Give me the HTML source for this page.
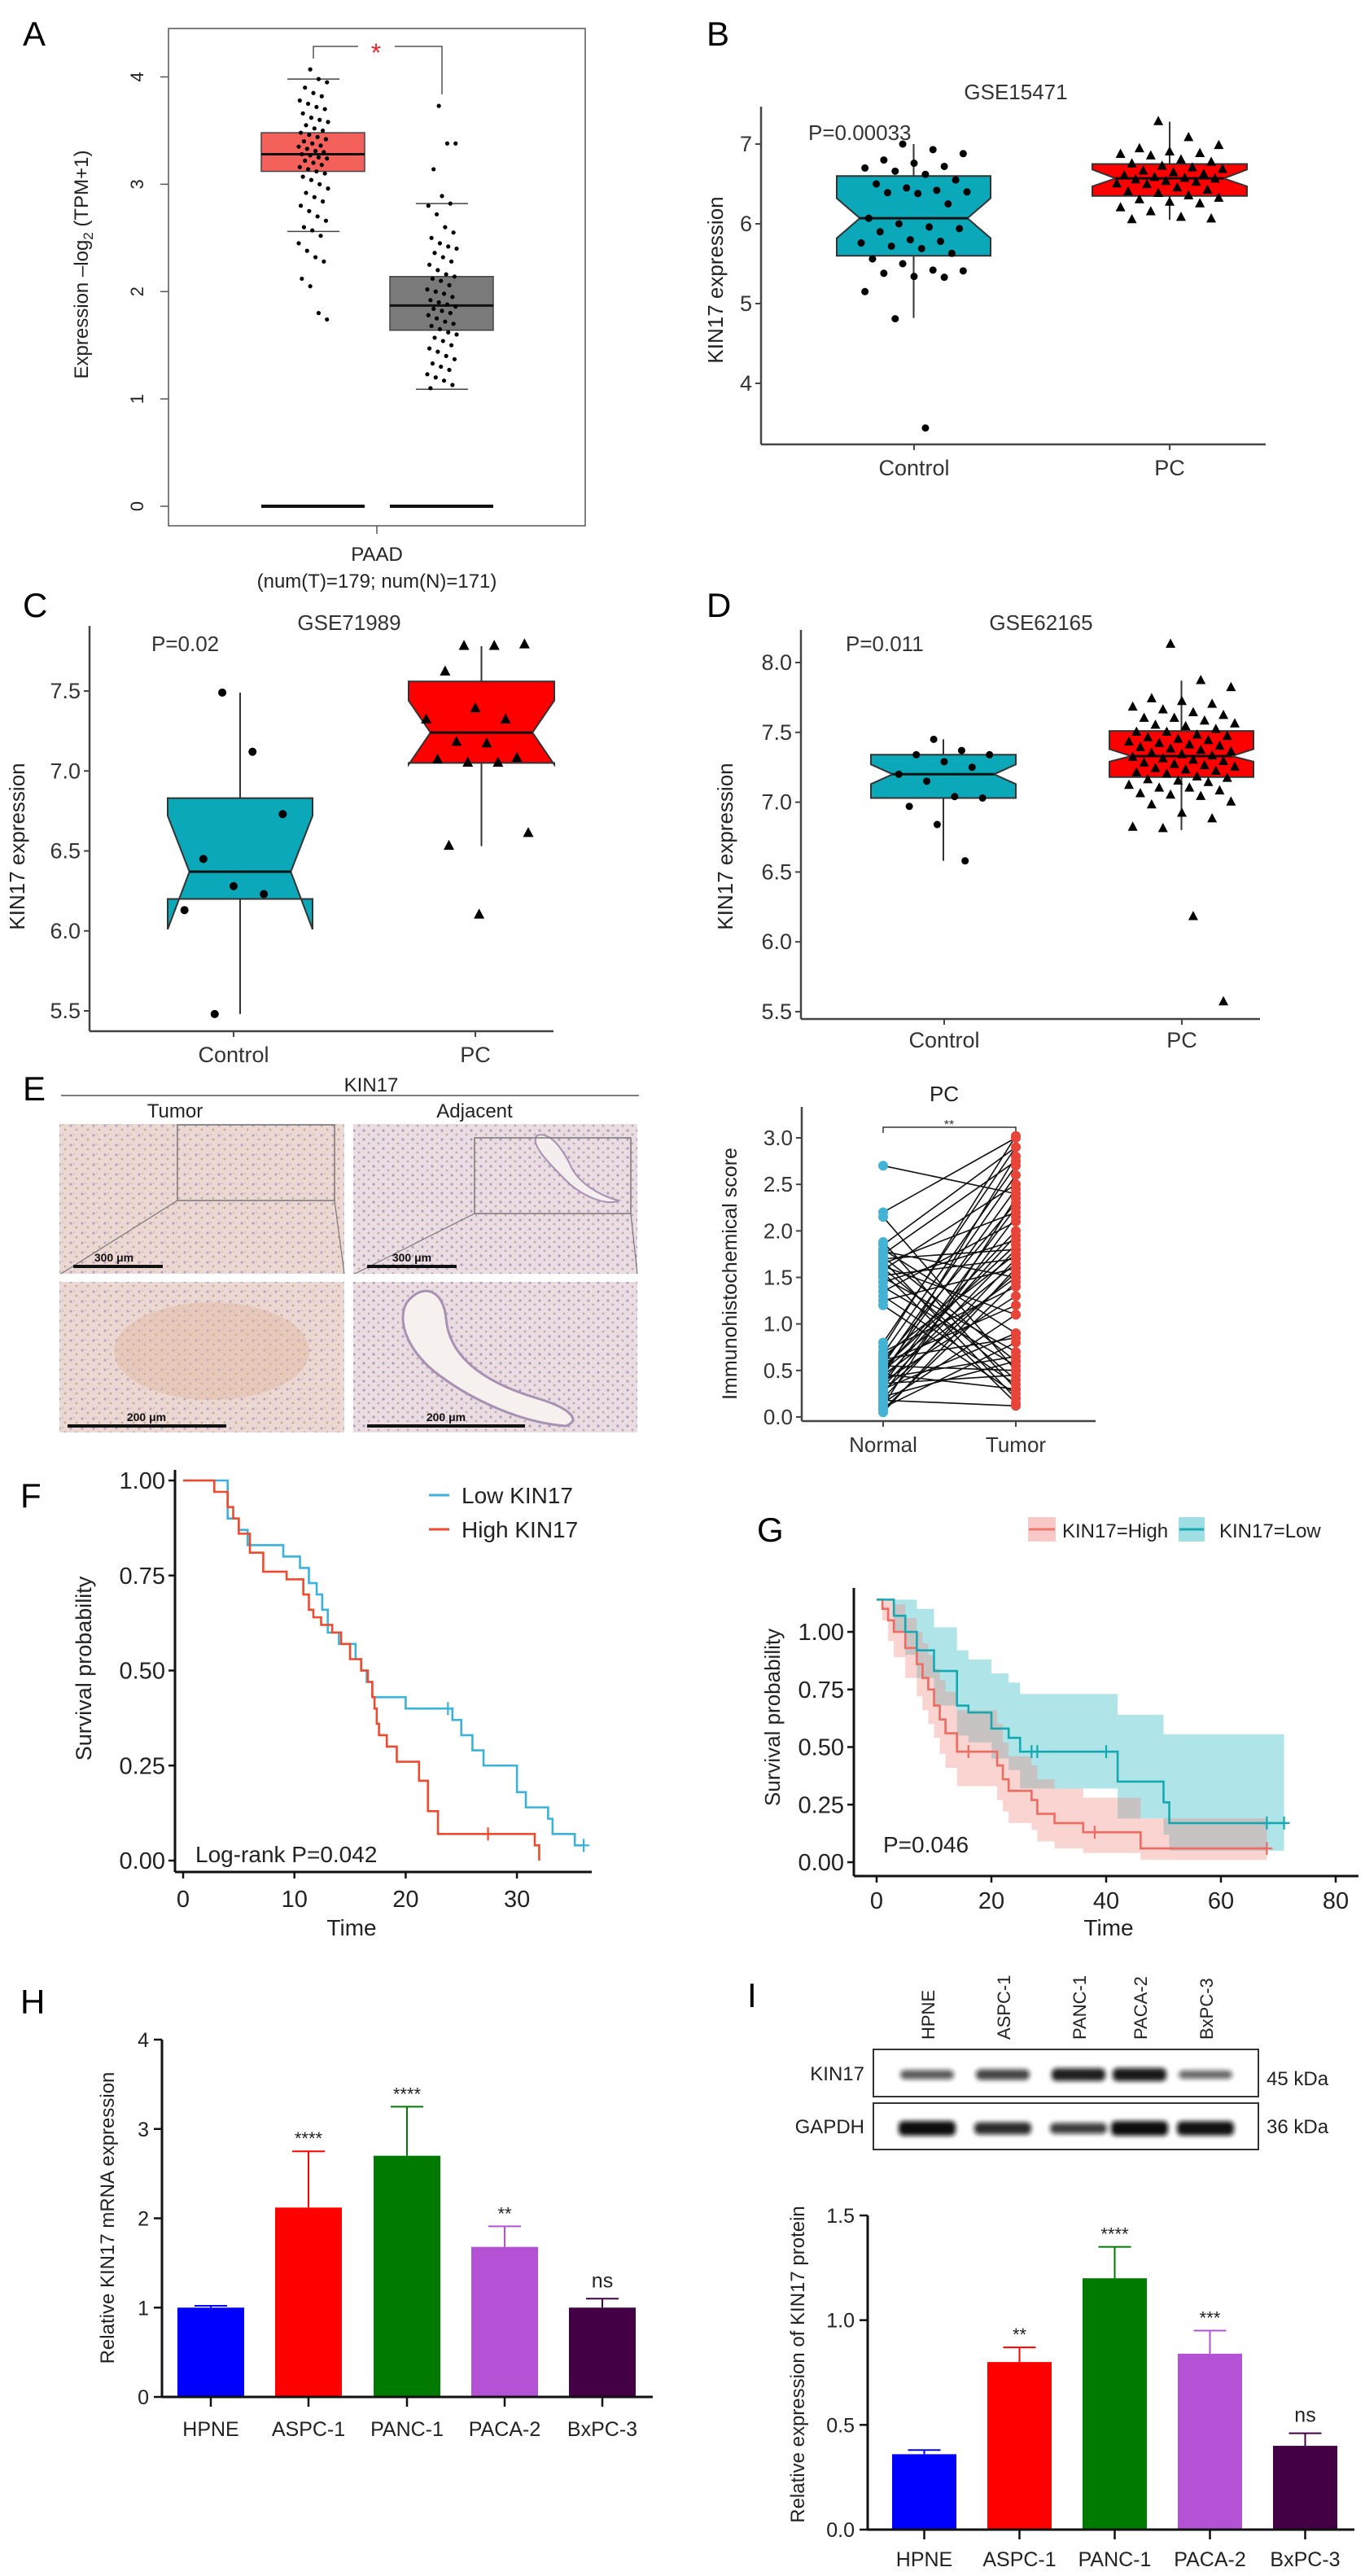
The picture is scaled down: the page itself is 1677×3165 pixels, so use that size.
<!DOCTYPE html>
<html><head><meta charset="utf-8">
<style>
html,body{margin:0;padding:0;background:#fff;}
svg{display:block;font-family:"Liberation Sans",Arial,sans-serif;}
.narrow{font-family:"Liberation Sans Narrow","Liberation Sans",sans-serif;}
</style></head>
<body>
<svg id="fig" width="1677" height="3165" viewBox="0 0 1677 3165" xmlns="http://www.w3.org/2000/svg">
<defs>
<filter id="blur2" x="-20%" y="-50%" width="140%" height="200%"><feGaussianBlur stdDeviation="3"/></filter>
<pattern id="tissueT" width="14" height="12" patternUnits="userSpaceOnUse">
<rect width="14" height="12" fill="#ecd8d2"/><circle cx="3" cy="3" r="1.6" fill="#b9a3c4"/><circle cx="10" cy="8" r="1.4" fill="#c9a79a"/><circle cx="7" cy="2" r="1" fill="#dcb8a8"/>
</pattern>
<pattern id="tissueA" width="12" height="11" patternUnits="userSpaceOnUse">
<rect width="12" height="11" fill="#eadde2"/><circle cx="3" cy="3" r="1.6" fill="#b29bbf"/><circle cx="9" cy="8" r="1.4" fill="#c7a6ae"/>
</pattern>
</defs>

<text x="28" y="56" font-size="42">A</text>
<text x="868" y="56" font-size="42">B</text>
<text x="28" y="758" font-size="42">C</text>
<text x="868" y="758" font-size="42">D</text>
<text x="28" y="1352" font-size="42">E</text>
<text x="25" y="1852" font-size="42">F</text>
<text x="930" y="1894" font-size="42">G</text>
<text x="25" y="2474" font-size="42">H</text>
<text x="918" y="2466" font-size="42">I</text>

<g id="pA">
<rect x="207" y="35" width="512" height="611" fill="none" stroke="#555" stroke-width="1.5"/>
<text transform="translate(108,325) rotate(-90)" text-anchor="middle" font-size="24" fill="#222">Expression –log<tspan font-size="17" dy="6">2</tspan><tspan dy="-6"> (TPM+1)</tspan></text>
<line x1="463" y1="646" x2="463" y2="656" stroke="#555" stroke-width="1.5"/>
<text x="463" y="689" text-anchor="middle" font-size="24" fill="#222">PAAD</text>
<text x="463" y="722" text-anchor="middle" font-size="24" fill="#222">(num(T)=179; num(N)=171)</text>
<path d="M385,72 V57 H440 M485,57 H543 V116" fill="none" stroke="#555" stroke-width="1.5"/>
<text x="462" y="76" text-anchor="middle" font-size="32" fill="#e8262b">*</text>
</g>

<g id="pB">
<text x="1248" y="122" text-anchor="middle" font-size="26" fill="#333">GSE15471</text>
<text x="993" y="172" font-size="26" fill="#333">P=0.00033</text>
<text transform="translate(888,344) rotate(-90)" text-anchor="middle" font-size="26" fill="#222">KIN17 expression</text>
</g>
<g id="pC">
<text x="429" y="774" text-anchor="middle" font-size="26" fill="#333">GSE71989</text>
<text x="186" y="800" font-size="26" fill="#333">P=0.02</text>
<text transform="translate(30,1040) rotate(-90)" text-anchor="middle" font-size="26" fill="#222">KIN17 expression</text>
</g>
<g id="pD">
<text x="1279" y="774" text-anchor="middle" font-size="26" fill="#333">GSE62165</text>
<text x="1039" y="800" font-size="26" fill="#333">P=0.011</text>
<text transform="translate(900,1040) rotate(-90)" text-anchor="middle" font-size="26" fill="#222">KIN17 expression</text>
</g>

<g id="pEimg">
<text x="456" y="1341" text-anchor="middle" font-size="24" fill="#222">KIN17</text>
<line x1="75" y1="1346" x2="785" y2="1346" stroke="#555" stroke-width="1.5"/>
<text x="215" y="1373" text-anchor="middle" font-size="24" fill="#222">Tumor</text>
<text x="583" y="1373" text-anchor="middle" font-size="24" fill="#222">Adjacent</text>
<rect x="73" y="1381" width="350" height="184" fill="url(#tissueT)"/>
<rect x="434" y="1381" width="349" height="184" fill="url(#tissueA)"/>
<rect x="73" y="1575" width="350" height="185" fill="url(#tissueT)"/>
<rect x="434" y="1575" width="349" height="185" fill="url(#tissueA)"/>
<ellipse cx="260" cy="1660" rx="120" ry="60" fill="#e2b9a0" opacity="0.45"/>
<path d="M500,1600 C520,1575 545,1585 548,1620 C552,1670 600,1700 660,1718 C700,1730 715,1745 695,1752 C640,1748 580,1720 540,1690 C505,1665 485,1625 500,1600 Z" fill="#f6f0ee" stroke="#a891b3" stroke-width="3"/>
<path d="M660,1395 C675,1390 690,1410 700,1430 C710,1455 740,1470 760,1475 C745,1482 715,1470 695,1450 C675,1430 650,1405 660,1395 Z" fill="#f4eeee" stroke="#a891b3" stroke-width="2"/>
<rect x="218" y="1382" width="193" height="93" fill="none" stroke="#777" stroke-width="1.5"/>
<rect x="583" y="1398" width="192" height="93" fill="none" stroke="#777" stroke-width="1.5"/>
<path d="M218,1475 L75,1565 M411,1475 L423,1565" stroke="#777" stroke-width="1.2"/>
<path d="M583,1491 L436,1565 M775,1491 L783,1565" stroke="#777" stroke-width="1.2"/>
<line x1="90" y1="1556" x2="200" y2="1556" stroke="#111" stroke-width="4"/>
<text x="140" y="1550" text-anchor="middle" font-size="14" font-weight="bold" fill="#111">300 μm</text>
<line x1="451" y1="1556" x2="561" y2="1556" stroke="#111" stroke-width="4"/>
<text x="506" y="1550" text-anchor="middle" font-size="14" font-weight="bold" fill="#111">300 μm</text>
<line x1="83" y1="1752" x2="278" y2="1752" stroke="#111" stroke-width="4"/>
<text x="180" y="1746" text-anchor="middle" font-size="14" font-weight="bold" fill="#111">200 μm</text>
<line x1="451" y1="1752" x2="645" y2="1752" stroke="#111" stroke-width="4"/>
<text x="548" y="1746" text-anchor="middle" font-size="14" font-weight="bold" fill="#111">200 μm</text>
</g>

<g id="pE">
<text x="1160" y="1353" text-anchor="middle" font-size="26" fill="#222">PC</text>
<path d="M1085,1392 V1385 H1248 V1392" fill="none" stroke="#333" stroke-width="1.5"/>
<text x="1166" y="1387" text-anchor="middle" font-size="16" fill="#333">**</text>
<text transform="translate(905,1565) rotate(-90)" text-anchor="middle" font-size="25" fill="#222">Immunohistochemical score</text>
</g>

<g id="pF" class="narrow">
<text transform="translate(112,2050) rotate(-90)" text-anchor="middle" font-size="27" fill="#222" font-family="Liberation Sans, sans-serif">Survival probability</text>
<text x="432" y="2378" text-anchor="middle" font-size="28" fill="#222">Time</text>
<text x="240" y="2288" font-size="28" fill="#222">Log-rank P=0.042</text>
<line x1="527" y1="1837" x2="552" y2="1837" stroke="#3ab2dc" stroke-width="3"/>
<text x="567" y="1847" font-size="28" fill="#222" font-family="Liberation Sans, sans-serif">Low KIN17</text>
<line x1="527" y1="1879" x2="552" y2="1879" stroke="#ef4a2e" stroke-width="3"/>
<text x="567" y="1889" font-size="28" fill="#222" font-family="Liberation Sans, sans-serif">High KIN17</text>
</g>

<g id="pG" class="narrow">
<rect x="1263" y="1864" width="34" height="30" fill="#f8c8c6"/>
<line x1="1264" y1="1879" x2="1296" y2="1879" stroke="#f0766c" stroke-width="3"/>
<text x="1305" y="1889" font-size="24" fill="#222">KIN17=High</text>
<rect x="1448" y="1864" width="32" height="30" fill="#9fdfe3"/>
<line x1="1449" y1="1879" x2="1479" y2="1879" stroke="#1aaab4" stroke-width="3"/>
<text x="1498" y="1889" font-size="24" fill="#222">KIN17=Low</text>
<text transform="translate(958,2110) rotate(-90)" text-anchor="middle" font-size="26" fill="#222" font-family="Liberation Sans, sans-serif">Survival probability</text>
<text x="1362" y="2378" text-anchor="middle" font-size="28" fill="#222">Time</text>
<text x="1085" y="2276" font-size="28" fill="#222">P=0.046</text>
</g>

<g id="pH">
<text transform="translate(140,2725) rotate(-90)" text-anchor="middle" font-size="24" fill="#222">Relative KIN17 mRNA expression</text>
</g>

<g id="pI">
<rect x="1073" y="2518" width="473" height="58" fill="#fff" stroke="#333" stroke-width="2"/>
<rect x="1073" y="2584" width="473" height="57" fill="#fff" stroke="#333" stroke-width="2"/>
<text x="1062" y="2556" text-anchor="end" font-size="24" fill="#222">KIN17</text>
<text x="1062" y="2621" text-anchor="end" font-size="24" fill="#222">GAPDH</text>
<text x="1556" y="2562" font-size="24" fill="#222">45 kDa</text>
<text x="1556" y="2621" font-size="24" fill="#222">36 kDa</text>
<text transform="translate(988,2905) rotate(-90)" text-anchor="middle" font-size="24" fill="#222">Relative expression of KIN17 protein</text>
</g>
</svg>

<script>
// ---------- DATA ----------
const aTumor = [4.07,3.98,3.95,3.9,3.85,3.82,3.78,3.75,3.72,3.7,3.66,3.62,3.6,3.58,3.55,3.52,3.5,3.48,3.46,3.44,3.42,3.4,3.38,3.36,3.35,3.33,3.31,3.3,3.28,3.27,3.25,3.24,3.22,3.2,3.18,3.16,3.14,3.12,3.1,3.07,3.04,3.0,2.96,2.92,2.88,2.84,2.8,2.75,2.7,2.66,2.6,2.57,2.52,2.45,2.38,2.32,2.28,2.12,2.05,1.8,1.74];
const aNormal = [3.73,3.38,3.38,3.14,2.89,2.82,2.8,2.72,2.6,2.55,2.5,2.45,2.42,2.4,2.36,2.32,2.28,2.25,2.2,2.16,2.14,2.12,2.1,2.06,2.02,2.0,1.98,1.95,1.92,1.9,1.88,1.86,1.84,1.82,1.8,1.78,1.75,1.72,1.7,1.68,1.65,1.62,1.6,1.57,1.54,1.5,1.47,1.44,1.4,1.37,1.33,1.3,1.27,1.23,1.2,1.17,1.13,1.1];
const aStats = [[2.56,3.12,3.28,3.48,3.98],[1.09,1.64,1.87,2.14,2.82]];
const aTicks = [0,1,2,3,4];

const bControl = [7.0,6.93,6.88,6.8,6.76,6.72,6.7,6.66,6.62,6.55,6.5,6.45,6.42,6.4,6.39,6.38,6.25,6.07,6.0,5.96,5.94,5.9,5.8,5.78,5.76,5.72,5.69,5.63,5.56,5.5,5.42,5.41,5.38,5.34,5.33,5.15,4.81,3.44];
const bPC = [7.28,7.08,6.98,6.94,6.9,6.88,6.87,6.85,6.8,6.77,6.75,6.72,6.7,6.68,6.66,6.64,6.62,6.6,6.58,6.57,6.56,6.55,6.53,6.52,6.5,6.49,6.45,6.42,6.4,6.38,6.35,6.32,6.3,6.27,6.25,6.2,6.15,6.08,6.06,6.05];
const bStats = [[4.82,5.6,6.07,6.6,7.0,5.82,6.32],[6.05,6.35,6.57,6.75,7.28,6.47,6.68]];
const bTicks = [4,5,6,7];

const cControl = [7.49,7.12,6.73,6.45,6.28,6.23,6.13,5.48];
const cPC = [7.78,7.78,7.79,7.62,7.39,7.32,7.32,7.18,7.17,7.08,7.07,7.05,7.05,6.61,6.53,6.1];
const cStats = [[5.48,6.2,6.37,6.83,7.49,6.01,6.72],[6.53,7.05,7.24,7.56,7.78,7.04,7.44]];
const cTicks = [5.5,6.0,6.5,7.0,7.5];

const dControl = [7.45,7.37,7.34,7.34,7.29,7.25,7.2,7.15,7.04,7.03,6.97,6.84,6.58];
const dPC = [8.13,7.87,7.82,7.74,7.72,7.7,7.68,7.66,7.64,7.62,7.6,7.6,7.58,7.56,7.55,7.54,7.52,7.5,7.5,7.48,7.47,7.46,7.45,7.44,7.43,7.42,7.41,7.4,7.39,7.38,7.37,7.36,7.35,7.34,7.33,7.32,7.31,7.3,7.29,7.28,7.27,7.26,7.25,7.24,7.23,7.22,7.21,7.2,7.18,7.17,7.16,7.15,7.14,7.12,7.1,7.1,7.08,7.06,7.05,7.04,7.0,6.98,6.92,6.88,6.82,6.81,6.18,5.57];
const dStats = [[6.58,7.03,7.2,7.34,7.45,7.13,7.27],[6.8,7.18,7.33,7.51,7.87,7.29,7.38]];
const dTicks = [5.5,6.0,6.5,7.0,7.5,8.0];

const eNormal = [2.7,2.2,2.15,1.88,1.85,1.8,1.78,1.75,1.72,1.7,1.68,1.65,1.62,1.6,1.58,1.55,1.52,1.5,1.45,1.4,1.35,1.3,1.25,1.2,0.8,0.75,0.7,0.68,0.65,0.62,0.6,0.58,0.56,0.55,0.53,0.52,0.5,0.48,0.46,0.45,0.43,0.42,0.4,0.38,0.36,0.35,0.33,0.3,0.28,0.25,0.22,0.2,0.18,0.15,0.12,0.1,0.08,0.05];
const eTumor = [2.4,3.0,0.5,0.3,2.9,0.9,1.5,2.75,0.6,1.8,0.2,2.2,1.1,0.4,2.5,0.15,1.7,0.7,1.9,0.55,2.1,0.35,1.6,0.25,2.9,3.02,1.4,2.7,1.75,0.85,2.3,1.2,2.6,0.5,1.85,2.0,1.65,2.45,0.3,1.5,2.8,0.65,1.95,1.3,0.45,2.25,1.8,0.9,1.55,2.15,0.6,1.7,0.12,1.1,2.35,0.8,1.45,1.6];
const eTicks = [0,0.5,1,1.5,2,2.5,3];

const fLowT = [0,4,5,5.8,9,10.5,11.3,12,12.5,13,14,15.5,16,16.5,17,20,24.2,25,26,27,30,30.8,32.8,33.2,35.2];
const fLowS = [1.0,0.90,0.87,0.83,0.80,0.77,0.73,0.70,0.66,0.60,0.57,0.53,0.50,0.47,0.43,0.40,0.37,0.33,0.29,0.25,0.18,0.14,0.11,0.07,0.04];
const fLowEnd = 36;
const fLowCensor = [[23.8,0.40],[36,0.04]];
const fHighT = [0,2.8,4,4.5,5,6,7.2,9.3,10.8,11.3,11.7,12.4,13.4,14.2,15,16,16.6,17,17.2,17.4,17.6,18.3,19.2,21.2,22,22.9,31.6];
const fHighS = [1.0,0.97,0.93,0.90,0.86,0.81,0.76,0.74,0.70,0.66,0.64,0.62,0.60,0.57,0.53,0.50,0.47,0.43,0.40,0.36,0.33,0.30,0.26,0.21,0.13,0.07,0.04];
const fHighEnd = 32;
const fHighDrop = 0.0;
const fHighCensor = [[27.4,0.07]];
const fYTicks = [0,0.25,0.5,0.75,1.0];
const fXTicks = [0,10,20,30];

const gHighT = [0,1,2,3,5,7,8,9,10,11,12,14,21,22,23,27,28,31,36,46];
const gHighS = [1.14,1.10,1.05,1.00,0.93,0.86,0.80,0.75,0.68,0.62,0.56,0.48,0.42,0.36,0.31,0.27,0.21,0.17,0.13,0.06];
const gHighU = [1.14,1.14,1.14,1.12,1.06,1.00,0.95,0.90,0.84,0.79,0.74,0.66,0.60,0.52,0.46,0.42,0.36,0.32,0.28,0.19];
const gHighL = [1.14,1.05,0.96,0.89,0.80,0.72,0.66,0.60,0.54,0.47,0.41,0.33,0.27,0.22,0.17,0.14,0.09,0.06,0.04,0.01];
const gHighEnd = 68;
const gHighCensor = [[16,0.48],[38,0.13],[68,0.06]];
const gLowT = [0,3,5,7,10,14,16,20,23,25,42,50,51];
const gLowS = [1.14,1.07,1.00,0.92,0.83,0.68,0.65,0.58,0.54,0.48,0.35,0.26,0.17];
const gLowU = [1.14,1.14,1.14,1.10,1.02,0.92,0.88,0.82,0.78,0.73,0.64,0.555,0.555];
const gLowL = [1.14,1.00,0.90,0.80,0.68,0.55,0.52,0.45,0.40,0.32,0.19,0.12,0.05];
const gLowEnd = 71;
const gLowCensor = [[27,0.48],[28,0.48],[40,0.48],[68,0.17],[71,0.17]];
const gYTicks = [0,0.25,0.5,0.75,1.0];
const gXTicks = [0,20,40,60,80];

const cellLines = ["HPNE","ASPC-1","PANC-1","PACA-2","BxPC-3"];
const barColors = ["#0000ff","#ff0000","#007a00","#b452d6","#440044"];
const hValues = [1.0,2.12,2.70,1.68,1.0];
const hErrors = [1.02,2.75,3.25,1.91,1.10];
const hSig = ["","****","****","**","ns"];
const hTicks = [0,1,2,3,4];
const iValues = [0.36,0.80,1.20,0.84,0.40];
const iErrors = [0.38,0.87,1.35,0.95,0.46];
const iSig = ["","**","****","***","ns"];
const iTicks = [0.0,0.5,1.0,1.5];
const blotKin = [0.55,0.7,0.95,1.0,0.45];
const blotGapdh = [1.0,0.75,0.6,1.0,0.95];

// ---------- HELPERS ----------
const NS = "http://www.w3.org/2000/svg";
const svg = document.getElementById('fig');
function mk(tag, attrs, parent){
  const e = document.createElementNS(NS, tag);
  for (const k in attrs) e.setAttribute(k, attrs[k]);
  (parent || svg).appendChild(e);
  return e;
}
function txt(parent, x, y, s, size, anchor, extra){
  const t = mk('text', Object.assign({x:x, y:y, 'font-size':size, 'text-anchor':anchor||'middle', fill:'#222'}, extra||{}), parent);
  t.textContent = s;
  return t;
}
function jit(i, w){ return (((i*37+11)%29)/28 - 0.5) * w; }
function lin(d0,d1,r0,r1){ return v => r0 + (v-d0)/(d1-d0)*(r1-r0); }

function ggAxes(g, x0, yTop, yBot, xRight, ticks, yS, fmt, fs, cats, catX, catY){
  const ax = mk('line',{x1:x0,y1:yTop,x2:x0,y2:yBot,stroke:'#444','stroke-width':2.5},g);
  
  
  const bx = mk('line',{x1:x0,y1:yBot,x2:xRight,y2:yBot,stroke:'#444','stroke-width':2.5},g);
  
  
  ticks.forEach(v=>{
    const y = yS(v);
    const tk = mk('line',{x1:x0-7,y1:y,x2:x0,y2:y,stroke:'#444','stroke-width':2},g);
    
    
    const tl = txt(g, x0-11, y+9, fmt(v), fs, 'end', {fill:'#333'});
    
    
  });
  cats.forEach((c,i)=>{
    const tk = mk('line',{x1:catX[i],y1:yBot,x2:catX[i],y2:yBot+7,stroke:'#444','stroke-width':2},g);
    
    
    const tl = txt(g, catX[i], catY, c, fs, 'middle', {fill:'#333'});
    
    
  });
}
function notchBox(g, x0, x1, st, yS, fill){
  const xm = (x0+x1)/2, ins = (x1-x0)*0.15;
  const wh = mk('line',{x1:xm,y1:yS(st[0]),x2:xm,y2:yS(st[4]),stroke:'#333','stroke-width':2},g);
  
  
  const [lo,q1,md,q3,hi,nl,nh] = st;
  const d = `M${x0},${yS(q3)} L${x1},${yS(q3)} L${x1},${yS(nh)} L${x1-ins},${yS(md)} L${x1},${yS(nl)} L${x1},${yS(q1)} L${x0},${yS(q1)} L${x0},${yS(nl)} L${x0+ins},${yS(md)} L${x0},${yS(nh)} Z`;
  const b = mk('path',{d:d,fill:fill,stroke:'#333','stroke-width':2,'stroke-linejoin':'miter'},g);
  
  
  const m = mk('line',{x1:x0+ins,y1:yS(md),x2:x1-ins,y2:yS(md),stroke:'#111','stroke-width':3},g);
  
  
}
function dots(g, vals, xc, w, yS, shape, r){
  vals.forEach((v,i)=>{
    const x = xc + jit(i,w), y = yS(v);
    let p;
    if (shape==='tri'){
      p = mk('path',{d:`M${x},${y-r*1.2} L${x+r},${y+r*0.7} L${x-r},${y+r*0.7} Z`,fill:'#000'},g);
    } else {
      p = mk('circle',{cx:x,cy:y,r:r,fill:'#000'},g);
    }
    
    
  });
}

// ---------- PANEL A ----------
(function(){
  const g = document.getElementById('pA');
  const yS = lin(0,4,622,94.5);
  aTicks.forEach(v=>{
    const tk = mk('line',{x1:197,y1:yS(v),x2:207,y2:yS(v),stroke:'#555','stroke-width':1.5},g);
    
    
    const tl = mk('text',{transform:`translate(176,${yS(v)}) rotate(-90)`,'text-anchor':'middle','font-size':22,fill:'#222'},g);
    tl.textContent = String(v);
    
    
  });
  const centers = [385,543], fills=['#f4605a','#7a7a7a'];
  [[321,448],[479,606]].forEach((xx,k)=>{
    const z = mk('line',{x1:xx[0],y1:yS(0),x2:xx[1],y2:yS(0),stroke:'#111','stroke-width':4},g);
    
    
    const st = aStats[k], xc = centers[k];
    const b = mk('rect',{x:xx[0],y:yS(st[3]),width:xx[1]-xx[0],height:yS(st[1])-yS(st[3]),fill:fills[k],stroke:'#444','stroke-width':1.5},g);
    
    
    const m = mk('line',{x1:xx[0],y1:yS(st[2]),x2:xx[1],y2:yS(st[2]),stroke:'#111','stroke-width':3},g);
    
    
    [st[0],st[4]].forEach(v=>{
      const c = mk('line',{x1:xc-32,y1:yS(v),x2:xc+32,y2:yS(v),stroke:'#444','stroke-width':1.5},g);
      
      
    });
  });
  [aTumor,aNormal].forEach((arr,k)=>{
    arr.forEach((v,i)=>{
      const c = mk('circle',{cx:centers[k]+jit(i,36),cy:yS(v),r:2.6,fill:'#000'},g);
      
      
    });
  });
})();

(function(){
  const g = document.getElementById('pB');
  const yS = lin(4,7,471,177);
  ggAxes(g, 935, 131, 546, 1555, bTicks, yS, v=>String(v), 27, ['Control','PC'], [1123,1437], 584);
  notchBox(g, 1028, 1217, bStats[0], yS, '#0aa8b8');
  notchBox(g, 1342, 1532, bStats[1], yS, '#ff0000');
  dots(g, bControl, 1123, 130, yS, 'dot', 4.5);
  dots(g, bPC, 1437, 130, yS, 'tri', 6);
})();
(function(){
  const g = document.getElementById('pC');
  const yS = lin(5.5,7.5,1242,849);
  ggAxes(g, 110, 769, 1267, 680, cTicks, yS, v=>v.toFixed(1), 27, ['Control','PC'], [287,584], 1305);
  notchBox(g, 206, 384, cStats[0], yS, '#0aa8b8');
  notchBox(g, 502, 681, cStats[1], yS, '#ff0000');
  dots(g, cControl, 287, 130, yS, 'dot', 5);
  dots(g, cPC, 584, 130, yS, 'tri', 6.5);
})();
(function(){
  const g = document.getElementById('pD');
  const yS = lin(5.5,8.0,1243,814);
  ggAxes(g, 984, 774, 1252, 1548, dTicks, yS, v=>v.toFixed(1), 27, ['Control','PC'], [1160,1452], 1287);
  notchBox(g, 1070, 1248, dStats[0], yS, '#0aa8b8');
  notchBox(g, 1363, 1540, dStats[1], yS, '#ff0000');
  dots(g, dControl, 1160, 120, yS, 'dot', 4.5);
  dots(g, dPC, 1452, 130, yS, 'tri', 6);
})();
(function(){
  const g = document.getElementById('pE');
  const yS = lin(0,3,1741,1398);
  ggAxes(g, 985, 1360, 1746, 1346, eTicks, yS, v=>v.toFixed(1), 26, ['Normal','Tumor'], [1085,1248], 1784);
  const n = Math.min(eNormal.length, eTumor.length);
  for (let i=0;i<n;i++){
    const l = mk('line',{x1:1085,y1:yS(eNormal[i]),x2:1248,y2:yS(eTumor[i]),stroke:'#111','stroke-width':1.6},g);
    
    
  }
  for (let i=0;i<n;i++){
    const a = mk('circle',{cx:1085,cy:yS(eNormal[i]),r:6,fill:'#42b3d5'},g);
    
    
    const b = mk('circle',{cx:1248,cy:yS(eTumor[i]),r:6,fill:'#e8453a'},g);
    
    
  }
})();

function stepPath(ts, ss, tEnd, xS, yS){
  let d = `M${xS(ts[0])},${yS(ss[0])}`;
  for (let i=1;i<ts.length;i++) d += ` H${xS(ts[i])} V${yS(ss[i])}`;
  d += ` H${xS(tEnd)}`;
  return d;
}
function bandPath(ts, up, lo, tEnd, xS, yS){
  const pts = [];
  for (let i=0;i<ts.length;i++){
    const tn = i<ts.length-1 ? ts[i+1] : tEnd;
    pts.push([xS(ts[i]),yS(up[i])],[xS(tn),yS(up[i])]);
  }
  for (let i=ts.length-1;i>=0;i--){
    const tn = i<ts.length-1 ? ts[i+1] : tEnd;
    pts.push([xS(tn),yS(lo[i])],[xS(ts[i]),yS(lo[i])]);
  }
  return 'M'+pts.map(p=>p.join(',')).join(' L')+' Z';
}
function censor(g, list, xS, yS, color){
  list.forEach(c=>{
    const x=xS(c[0]), y=yS(c[1]);
    const p = mk('path',{d:`M${x-7},${y} H${x+7} M${x},${y-8} V${y+8}`,stroke:color,'stroke-width':2.2},g);
    
    
  });
}

(function(){
  const g = document.getElementById('pF');
  const xS = lin(0,10,225,361.7), yS = lin(0,1,2286,1819);
  const ya = mk('line',{x1:215,y1:1806,x2:215,y2:2300,stroke:'#111','stroke-width':3},g);
  
  
  const xa = mk('line',{x1:215,y1:2300,x2:727,y2:2300,stroke:'#111','stroke-width':3},g);
  
  
  fYTicks.forEach(v=>{
    const tk = mk('line',{x1:207,y1:yS(v),x2:215,y2:yS(v),stroke:'#111','stroke-width':2.5},g);
    
    
    const tl = txt(g, 203, yS(v)+10, v.toFixed(2), 29, 'end');
    
    
  });
  fXTicks.forEach(v=>{
    const tk = mk('line',{x1:xS(v),y1:2300,x2:xS(v),y2:2308,stroke:'#111','stroke-width':2.5},g);
    
    
    const tl = txt(g, xS(v), 2343, String(v), 29, 'middle');
    
    
  });
  const lo = mk('path',{d:stepPath(fLowT,fLowS,fLowEnd,xS,yS),fill:'none',stroke:'#3ab2dc','stroke-width':2.6},g);
  
  
  const hi = mk('path',{d:stepPath(fHighT,fHighS,fHighEnd,xS,yS)+` V${yS(fHighDrop)}`,fill:'none',stroke:'#ef4a2e','stroke-width':2.6},g);
  
  
  censor(g, fLowCensor, xS, yS, '#3ab2dc');
  censor(g, fHighCensor, xS, yS, '#ef4a2e');
})();

(function(){
  const g = document.getElementById('pG');
  const xS = lin(0,20,1077,1218), yS = lin(0,1,2288,2005);
  const bl = mk('path',{d:bandPath(gLowT,gLowU,gLowL,gLowEnd,xS,yS),fill:'#1bb5be',opacity:0.35},g);
  
  
  const bh = mk('path',{d:bandPath(gHighT,gHighU,gHighL,gHighEnd,xS,yS),fill:'#f2847c',opacity:0.35},g);
  
  
  const ya = mk('line',{x1:1049,y1:1951,x2:1049,y2:2305,stroke:'#111','stroke-width':3},g);
  
  
  const xa = mk('line',{x1:1049,y1:2305,x2:1669,y2:2305,stroke:'#111','stroke-width':3},g);
  
  
  gYTicks.forEach(v=>{
    const tk = mk('line',{x1:1041,y1:yS(v),x2:1049,y2:yS(v),stroke:'#111','stroke-width':2.5},g);
    
    
    const tl = txt(g, 1037, yS(v)+10, v.toFixed(2), 29, 'end');
    
    
  });
  gXTicks.forEach(v=>{
    const tk = mk('line',{x1:xS(v),y1:2305,x2:xS(v),y2:2313,stroke:'#111','stroke-width':2.5},g);
    
    
    const tl = txt(g, xS(v), 2345, String(v), 29, 'middle');
    
    
  });
  const hi = mk('path',{d:stepPath(gHighT,gHighS,gHighEnd,xS,yS),fill:'none',stroke:'#ef6a60','stroke-width':2.6},g);
  
  
  const lo = mk('path',{d:stepPath(gLowT,gLowS,gLowEnd,xS,yS),fill:'none',stroke:'#14a8b2','stroke-width':2.6},g);
  
  
  censor(g, gHighCensor, xS, yS, '#ef6a60');
  censor(g, gLowCensor, xS, yS, '#14a8b2');
})();

function barChart(g, axisX, y0, yTopVal, yTopPx, xRight, ticks, fmt, values, errors, sig, barX, barW, labelY){
  const yS = lin(0, yTopVal, y0, yTopPx);
  const ya = mk('line',{x1:axisX,y1:yS(ticks[ticks.length-1]),x2:axisX,y2:y0,stroke:'#111','stroke-width':3},g);
  
  
  ticks.forEach(v=>{
    const tk = mk('line',{x1:axisX-10,y1:yS(v),x2:axisX,y2:yS(v),stroke:'#111','stroke-width':2.5},g);
    
    
    const tl = txt(g, axisX-16, yS(v)+9, fmt(v), 25, 'end');
    
    
  });
  values.forEach((v,i)=>{
    const x = barX[i], c = barColors[i], xc = x+barW/2;
    const eb = mk('path',{d:`M${xc},${yS(v)} V${yS(errors[i])} M${xc-20},${yS(errors[i])} H${xc+20}`,stroke:c,'stroke-width':2},g);
    
    
    const r = mk('rect',{x:x,y:yS(v),width:barW,height:y0-yS(v),fill:c},g);
    
    
    if (sig[i]){
      const s = txt(g, xc, yS(errors[i]) - (sig[i]==='ns'?14:8), sig[i], sig[i]==='ns'?25:22, 'middle');
      
      
    }
    const tk = mk('line',{x1:xc,y1:y0,x2:xc,y2:y0+12,stroke:'#111','stroke-width':2.5},g);
    
    
    const tl = txt(g, xc, labelY, cellLines[i], 25, 'middle');
    
    
  });
  const xa = mk('line',{x1:axisX,y1:y0,x2:xRight,y2:y0,stroke:'#111','stroke-width':3},g);
  
  
}
barChart(document.getElementById('pH'), 199, 2945, 4, 2506, 802, hTicks, v=>String(v), hValues, hErrors, hSig, [218,338,459,579,699], 82, 2993);
barChart(document.getElementById('pI'), 1066, 3108, 1.5, 2722, 1664, iTicks, v=>v.toFixed(1), iValues, iErrors, iSig, [1096,1213,1330,1447,1564], 79, 3153);

(function(){
  const g = document.getElementById('pI');
  const lanes = [1139,1232,1325,1400,1481];
  cellLines.forEach((c,i)=>{
    const t = mk('text',{transform:`translate(${lanes[i]+9},2506) rotate(-90)`,'text-anchor':'start','font-size':22,fill:'#222'},g);
    t.textContent = c;
    
    
    const k = mk('rect',{x:lanes[i]-33,y:2546-5*blotKin[i],width:66,height:6+10*blotKin[i],rx:6,fill:'#111',opacity:0.35+0.6*blotKin[i],filter:'url(#blur2)'},g);
    
    
    const b = mk('rect',{x:lanes[i]-35,y:2612-6*blotGapdh[i],width:70,height:6+12*blotGapdh[i],rx:6,fill:'#111',opacity:0.5+0.5*blotGapdh[i],filter:'url(#blur2)'},g);
    
    
  });
})();
</script>
</body></html>
